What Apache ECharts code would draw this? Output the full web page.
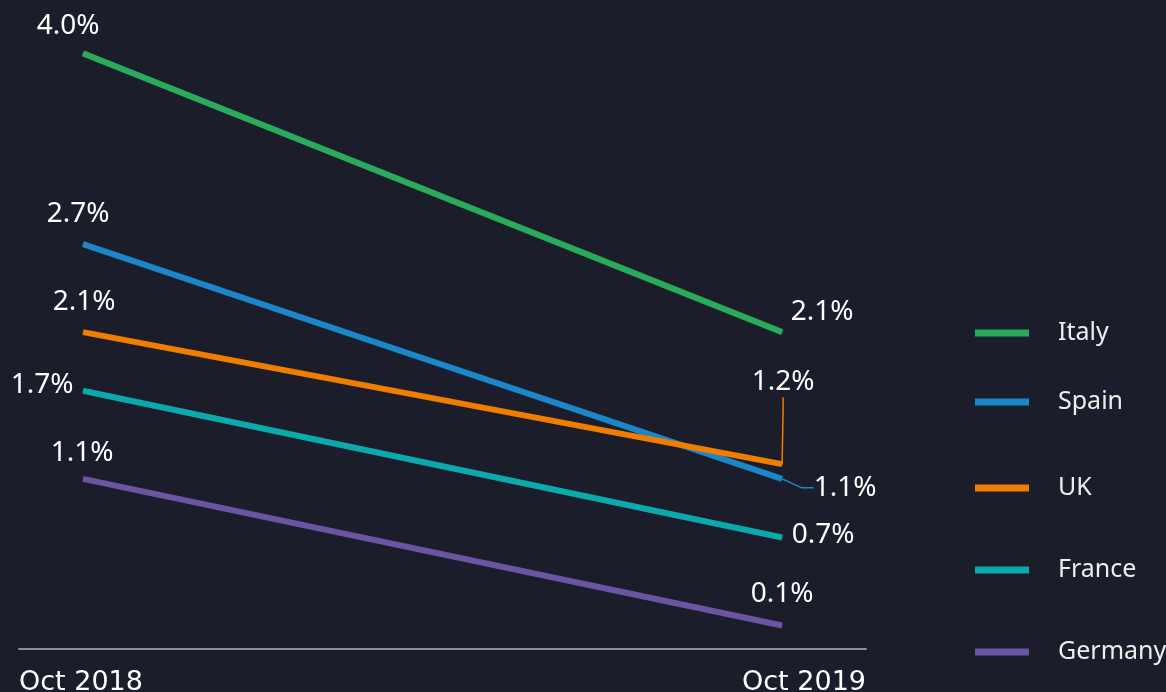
<!DOCTYPE html>
<html>
<head>
<meta charset="utf-8">
<script src="https://cdn.jsdelivr.net/npm/echarts@6/dist/echarts.min.js"></script>
<style>
  html, body { margin: 0; padding: 0; background: #1b1e2a; }
  #container { width: 1166px; height: 692px; }
</style>
</head>
<body>
<div id="container"></div>
<script>
var dom = document.getElementById("container");
var myChart = echarts.init(dom);

// data
var dates = ["Oct 2018", "Oct 2019"];
var countries = ["Italy", "Spain", "UK", "France", "Germany"];
var italy = [4.0, 2.1];
var spain = [2.7, 1.1];
var uk = [2.1, 1.2];
var france = [1.7, 0.7];
var germany = [1.1, 0.1];

var values = [italy, spain, uk, france, germany];
var colors = ["#2aab5b", "#1b87c9", "#ef7d00", "#0aa9aa", "#6b55a2"];

// label shifts per point [left, right]
var labelShift = [
  [[-15, -27], [40, -20]],
  [[-5, -30], [63, 9]],
  [[1, -30], [1, -82]],
  [[-41, -6], [41, -2]],
  [[-1, -26], [0, -31]]
];
// labels that get a guide line: series index -> data index
var guided = { 1: 1, 2: 1 };

var xMin = -0.0916, xMax = 1.12;
var legendCenters = [331, 400, 486, 568, 650];

var seriesData = countries.map(function (name, i) {
  return {
    name: name,
    type: "line",
    color: colors[i],
    symbol: "circle",
    symbolSize: 1,
    showSymbol: true,
    lineStyle: { width: 6, color: colors[i] },
    itemStyle: { color: colors[i] },
    label: {
      show: true,
      position: "inside",
      color: "#ffffff",
      fontFamily: "Noto Sans",
      fontSize: 28,
      lineHeight: 30,
      formatter: function (p) {
        return p.value[1].toFixed(1) + "%";
      }
    },
    labelLine: { show: false },
    labelLayout: function (p) {
      var s = labelShift[i][p.dataIndex];
      return { dx: s[0], dy: s[1] };
    },
    data: values[i].map(function (v, j) {
      var item = { value: [j, v] };
      if (guided[i] === j) {
        item.labelLine = {
          show: true,
          length2: 12,
          smooth: false,
          lineStyle: { color: colors[i], width: 1.5 }
        };
      }
      return item;
    })
  };
});

var legends = countries.map(function (name, i) {
  return {
    data: [name],
    left: 975,
    top: legendCenters[i] - 13,
    padding: 0,
    icon: "rect",
    itemWidth: 54,
    itemHeight: 7,
    selectedMode: false,
    textStyle: {
      color: "#eeeeee",
      fontFamily: "Noto Sans",
      fontSize: 25,
      lineHeight: 30,
      padding: [0, 0, 0, 24]
    }
  };
});

var option = {
  backgroundColor: "#1b1e2a",
  animation: false,
  grid: {
    left: 19,
    right: 300,
    top: 24,
    bottom: 43,
    containLabel: false,
    outerBoundsMode: "none"
  },
  legend: legends,
  xAxis: {
    type: "value",
    min: xMin,
    max: xMax,
    splitLine: { show: false },
    axisTick: { show: false },
    axisLine: { show: true, onZero: false, lineStyle: { color: "#8e8e93", width: 2 } },
    axisLabel: {
      customValues: [xMin, xMax],
      formatter: function (v) {
        return v < 0.5 ? dates[0] : dates[1];
      },
      alignMinLabel: "left",
      alignMaxLabel: "right",
      color: "#ffffff",
      fontFamily: "DejaVu Sans",
      fontSize: 27,
      margin: 20
    }
  },
  yAxis: {
    type: "value",
    min: -0.06,
    max: 4.2,
    show: false,
    splitLine: { show: false }
  },
  series: seriesData
};

if (option && typeof option === "object") {
  myChart.setOption(option);
}
</script>
</body>
</html>
